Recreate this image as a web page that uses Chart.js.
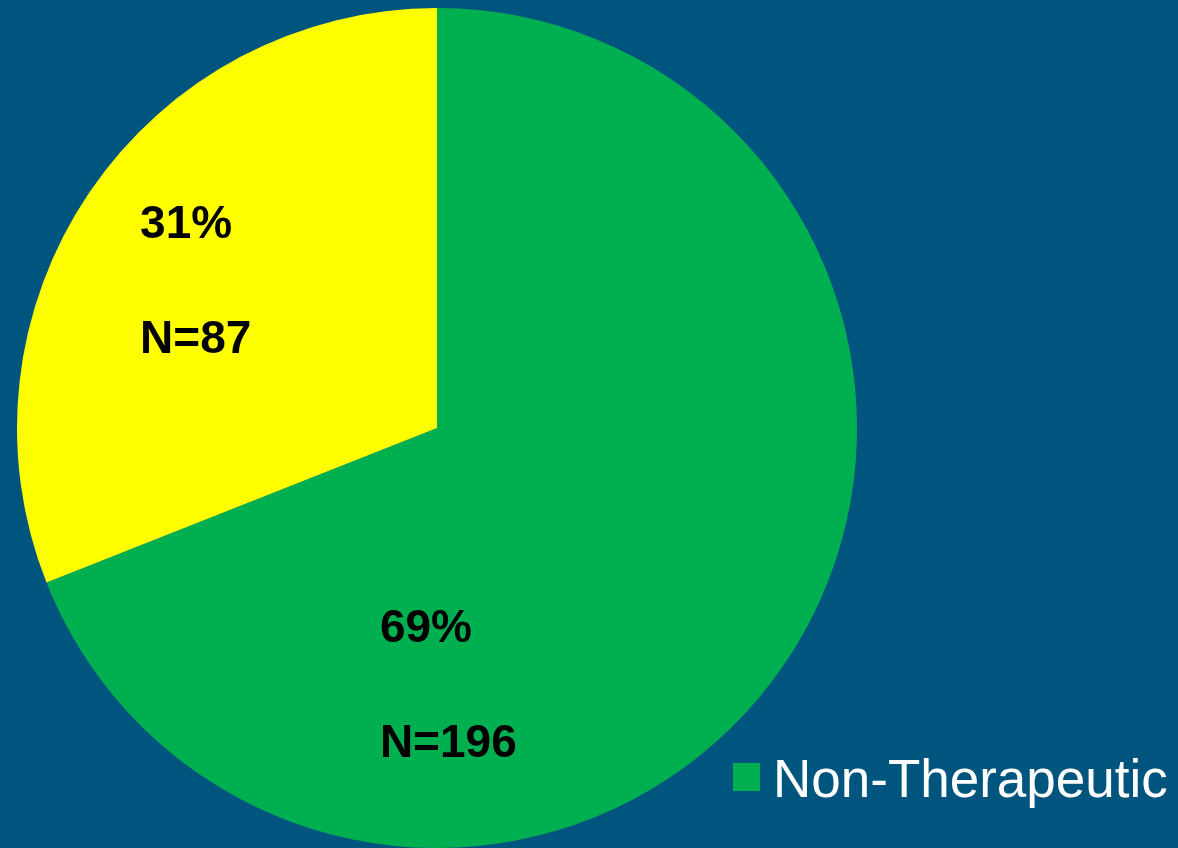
<!DOCTYPE html>
<html>
<head>
<meta charset="utf-8">
<script src="https://cdn.jsdelivr.net/npm/chart.js@4/dist/chart.umd.min.js"></script>
<style>
  html, body { margin: 0; padding: 0; background: #00557f; overflow: hidden; }
  #wrap { position: relative; width: 1178px; height: 848px; }
</style>
</head>
<body>
<div id="wrap"><canvas id="chPie"></canvas></div>
<script>
(function () {
  var labels = ["Non-Therapeutic", "Therapeutic"];
  var shares = [69, 31];
  var pctLabels = ["69%", "31%"];
  var nLabels = ["N=196", "N=87"];
  var colors = ["#00b050", "#ffff00"];

  var FONT = "'Liberation Sans', Arial, sans-serif";

  // label anchors as fraction of radius from the pie centre (left edge, baseline)
  var labelPos = [
    { dx: -0.136, dy: 0.510 },
    { dx: -0.707, dy: -0.452 }
  ];
  var lineGap = 0.273;

  var pieLabels = {
    id: "pieLabels",
    afterDatasetsDraw: function (chart) {
      var ctx = chart.ctx, arc = chart.getDatasetMeta(0).data[0];
      var cx = arc.x, cy = arc.y, r = arc.outerRadius;
      ctx.save();
      ctx.fillStyle = "#000";
      ctx.font = "bold 46px " + FONT;
      ctx.textAlign = "left";
      ctx.textBaseline = "alphabetic";
      labelPos.forEach(function (p, i) {
        var x = cx + p.dx * r, y = cy + p.dy * r;
        ctx.fillText(pctLabels[i], x, y);
        ctx.fillText(nLabels[i], x, y + lineGap * r);
      });

      // legend, lower right; only the first entry fits in the visible area
      ctx.font = "53px " + FONT;
      var y = 797;
      ctx.fillStyle = colors[0];
      ctx.fillRect(733, y - 34, 27, 28);
      ctx.fillStyle = "#fff";
      ctx.fillText(labels[0], 773, y);
      ctx.restore();
    }
  };

  new Chart(document.getElementById("chPie"), {
    type: "pie",
    data: {
      labels: labels,
      datasets: [{ data: shares, backgroundColor: colors, borderWidth: 0 }]
    },
    options: {
      responsive: true, maintainAspectRatio: false, animation: false,
      layout: { padding: { left: 16, top: 8, right: 320, bottom: 0 } },
      plugins: { legend: { display: false }, tooltip: { enabled: false } }
    },
    plugins: [pieLabels]
  });
})();
</script>
</body>
</html>
